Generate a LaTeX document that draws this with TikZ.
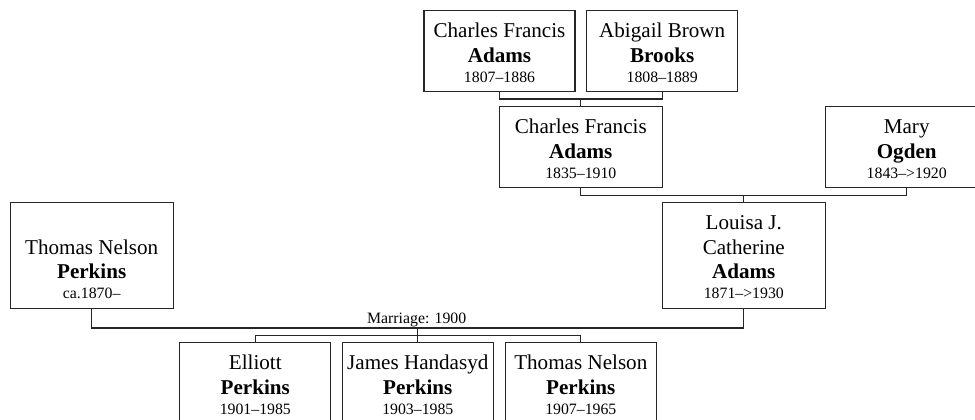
\documentclass[tikz,border=0pt]{standalone}
\usepackage{fontspec}
\setmainfont{Liberation Serif}
\newdimen\px \px=0.5pt
\tikzset{
  pbox/.style={draw=black!85, line width=0.65pt, rectangle, inner sep=0pt, minimum height=81\px},
  wide/.style={minimum width=163\px},
  narrow/.style={minimum width=151\px},
  tall/.style={minimum height=106\px},
  ptext/.style={anchor=south, inner sep=0pt, align=center,
    font=\fontsize{10.55pt}{12.4pt}\selectfont, yshift=4.9pt},
  conn/.style={draw=black!85, line width=0.65pt},
  lbl/.style={inner sep=0pt, font=\fontsize{7.9pt}{9pt}\selectfont},
}
\newcommand{\dates}[1]{\\[-2.4pt]{\fontsize{7.9pt}{9pt}\selectfont #1}}
\begin{document}
\begin{tikzpicture}[x=0.5pt, y=-0.5pt]
\useasboundingbox (0,0) rectangle (975,419);
\clip (0,0) rectangle (975,419);
% boxes
\node[pbox, narrow] (cfa1) at (499.5,51.2) {};
\node[pbox, narrow] (abb) at (662.2,51.2) {};
\node[pbox, wide] (cfa2) at (580.8,147.2) {};
\node[pbox, wide] (mary) at (906.7,147.2) {};
\node[pbox, wide, tall] (tnp) at (91.7,255.6) {};
\node[pbox, wide, tall] (louisa) at (743.8,255.6) {};
\node[pbox, narrow] (elliott) at (255.3,383.2) {};
\node[pbox, narrow] (james) at (417.8,383.2) {};
\node[pbox, narrow] (thomas) at (580.8,383.2) {};
% texts
\node[ptext] (cfa1t) at (cfa1.south) {Charles Francis\\\textbf{Adams}\dates{1807--1886}};
\node[ptext] (abbt) at (abb.south) {Abigail Brown\\\textbf{Brooks}\dates{1808--1889}};
\node[ptext] (cfa2t) at (cfa2.south) {Charles Francis\\\textbf{Adams}\dates{1835--1910}};
\node[ptext] (maryt) at (mary.south) {Mary\\\textbf{Ogden}\dates{1843-->1920}};
\node[ptext] (tnpt) at (tnp.south) {Thomas Nelson\\\textbf{Perkins}\dates{ca.1870--}};
\node[ptext] (louisat) at (louisa.south) {Louisa J.\\Catherine\\\textbf{Adams}\dates{1871-->1930}};
\node[ptext] (elliottt) at (elliott.south) {Elliott\\\textbf{Perkins}\dates{1901--1985}};
\node[ptext] (jamest) at (james.south) {James Handasyd\\\textbf{Perkins}\dates{1903--1985}};
\node[ptext] (thomast) at (thomas.south) {Thomas Nelson\\\textbf{Perkins}\dates{1907--1965}};
% junction coordinates
\coordinate (m1) at (580.8,99);
\coordinate (m2) at (743.8,195.7);
\coordinate (m3) at (417.8,328);
\coordinate (m4) at (417.8,335.5);
% connectors
\draw[conn] (cfa1.south) -- (cfa1.south |- m1) -- (abb.south |- m1) -- (abb.south);
\draw[conn] (m1) -- (cfa2.north);
\draw[conn] (cfa2.south) -- (cfa2.south |- m2) -- (mary.south |- m2) -- (mary.south);
\draw[conn] (m2) -- (louisa.north);
\draw[conn] (tnp.south) -- (tnp.south |- m3) -- (louisa.south |- m3) -- (louisa.south);
\draw[conn] (m3) -- (james.north);
\draw[conn] (elliott.north) -- (elliott.north |- m4) -- (thomas.north |- m4) -- (thomas.north);
\node[lbl, anchor=base] (mlabel) at (416.7,323.3) {Marriage: 1900};
\end{tikzpicture}
\end{document}
